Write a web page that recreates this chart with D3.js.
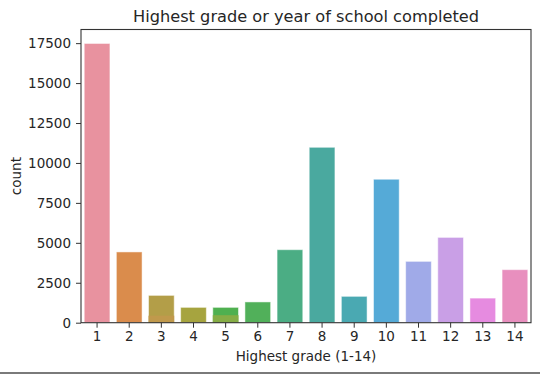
<!DOCTYPE html>
<html>
<head>
<meta charset="utf-8">
<script src="https://cdn.jsdelivr.net/npm/d3@7"></script>
<style>
  html, body { margin: 0; padding: 0; background: #fff; }
  svg { display: block; }
  text { font-family: "DejaVu Sans", sans-serif; fill: #262626; }
</style>
</head>
<body>
<svg id="chart" width="540" height="374"></svg>
<script>
// ---- data ----
const categories = ["1","2","3","4","5","6","7","8","9","10","11","12","13","14"];
const counts = [17480, 4430, 1710, 960, 960, 1300, 4570, 10980, 1650, 8980, 3840, 5340, 1540, 3320];
const barColors = ["#e8929f","#da8c4c","#b39e48","#a6a43f","#4fb050","#51b05a","#4bad84","#4aa99f","#4aa9b2","#55aad7","#a0aae8","#c99fe6","#e68be0","#e88fbe"];
// overlapping lower bars visible inside bars 3 and 5
const overlayCategories = ["3","5"];
const overlayCounts = [440, 470];
const overlayColors = ["#c0994c","#86ad46"];
const yTicks = [0, 2500, 5000, 7500, 10000, 12500, 15000, 17500];
const title = "Highest grade or year of school completed";
const xLabel = "Highest grade (1-14)";
const yLabel = "count";

// ---- layout ----
const svg = d3.select("#chart");
const L = 81, R = 531, T = 29.5, B = 322.7;

const x = d3.scaleBand().domain(categories).range([L, R]).paddingInner(0.2).paddingOuter(0.1);
const y = d3.scaleLinear().domain([0, d3.max(counts) * 1.05]).range([B, T]);

// bars
svg.append("g").selectAll("rect").data(categories).join("rect")
  .attr("x", d => x(d))
  .attr("width", x.bandwidth())
  .attr("y", (d, i) => y(counts[i]))
  .attr("height", (d, i) => B - y(counts[i]))
  .attr("fill", (d, i) => barColors[i])
  .attr("stroke", "#ffffff").attr("stroke-opacity", 0.5).attr("stroke-width", 1);

svg.append("g").selectAll("rect").data(overlayCategories).join("rect")
  .attr("x", d => x(d))
  .attr("width", x.bandwidth())
  .attr("y", (d, i) => y(overlayCounts[i]))
  .attr("height", (d, i) => B - y(overlayCounts[i]))
  .attr("fill", (d, i) => overlayColors[i]);

// axes
const xAxis = d3.axisBottom(x).tickSize(5).tickPadding(4);
const gx = svg.append("g").attr("transform", `translate(0,${B})`).call(xAxis);
gx.select(".domain").remove();
gx.selectAll("line").attr("stroke", "#333").attr("stroke-width", 1);
gx.selectAll("text").style("font-size", "13.5px").style("fill", "#262626").attr("font-family", "DejaVu Sans");

const yAxis = d3.axisLeft(y).tickValues(yTicks).tickFormat(d3.format("d")).tickSize(5).tickPadding(5);
const gy = svg.append("g").attr("transform", `translate(${L},0)`).call(yAxis);
gy.select(".domain").remove();
gy.selectAll("line").attr("stroke", "#333").attr("stroke-width", 1);
gy.selectAll("text").style("font-size", "13.5px").style("fill", "#262626").attr("font-family", "DejaVu Sans");

// spines
svg.append("rect").attr("x", L).attr("y", T).attr("width", R - L).attr("height", B - T)
  .attr("fill", "none").attr("stroke", "#333").attr("stroke-width", 1.1);

// title & labels
svg.append("text").attr("x", (L + R) / 2).attr("y", 22).attr("text-anchor", "middle")
  .style("font-size", "16.2px").text(title);
svg.append("text").attr("x", (L + R) / 2).attr("y", 361).attr("text-anchor", "middle")
  .style("font-size", "13.5px").text(xLabel);
svg.append("text").attr("transform", `translate(21,${(T + B) / 2}) rotate(-90)`).attr("text-anchor", "middle")
  .style("font-size", "13.5px").text(yLabel);

// bottom border of the screenshot
svg.append("rect").attr("x", 0).attr("y", 372).attr("width", 540).attr("height", 2).attr("fill", "#7a7a7a");
</script>
</body>
</html>
